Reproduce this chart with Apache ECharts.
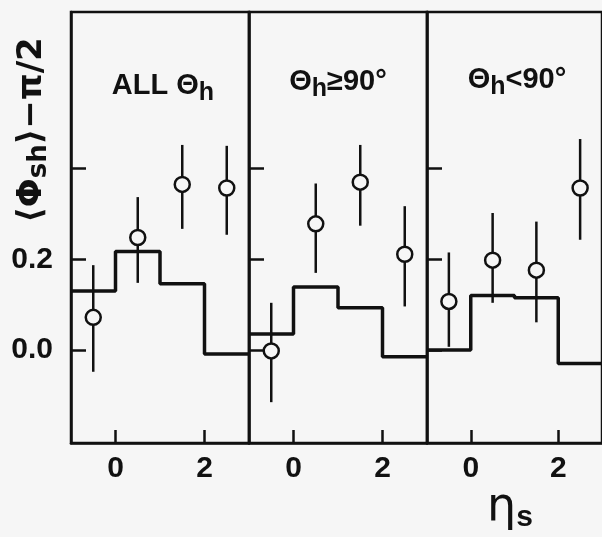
<!DOCTYPE html>
<html>
<head>
<meta charset="utf-8">
<script src="https://cdn.jsdelivr.net/npm/echarts@6/dist/echarts.min.js"></script>
<style>html,body{margin:0;padding:0;background:#f6f6f6;}#c{width:602px;height:537px;}</style>
</head>
<body>
<div id="c"></div>
<script>
// ---- data ----
const panelTitles = ['ALL Θh', 'Θh≥90°', 'Θh<90°'];
const xTickValues = [0, 2];
const yTickValues = [0, 0.2, 0.4];
const yLabelValues = [0, 0.2];
const pointX = [-0.5, 0.5, 1.5, 2.5];
const binEdges = [-1, 0, 1, 2, 3];

const allVal  = [0.072, 0.248, 0.365, 0.357];
const allHi   = [0.187, 0.337, 0.452, 0.450];
const allLo   = [-0.048, 0.148, 0.267, 0.254];
const allHist = [0.130, 0.217, 0.146, -0.009];

const geVal  = [-0.002, 0.278, 0.370, 0.211];
const geHi   = [0.104, 0.367, 0.452, 0.317];
const geLo   = [-0.115, 0.170, 0.274, 0.096];
const geHist = [0.035, 0.139, 0.093, -0.015];

const ltVal  = [0.107, 0.198, 0.176, 0.357];
const ltHi   = [0.215, 0.302, 0.283, 0.465];
const ltLo   = [0.007, 0.104, 0.061, 0.243];
const ltHist = [0.000, 0.120, 0.115, -0.030];

const panels = [
  {val: allVal, hi: allHi, lo: allLo, hist: allHist},
  {val: geVal, hi: geHi, lo: geLo, hist: geHist},
  {val: ltVal, hi: ltHi, lo: ltLo, hist: ltHist}
];

// ---- chart ----
const ink = '#111';
const font = "'Liberation Sans', 'DejaVu Sans', sans-serif";
const gridLefts = [71, 249, 427];
const grids = [], xAxes = [], yAxes = [], series = [];

panels.forEach((p, i) => {
  grids.push({left: gridLefts[i], top: 12, width: 178, height: 431,
    show: true, borderColor: ink, borderWidth: 2.5, backgroundColor: 'transparent'});
  xAxes.push({gridIndex: i, type: 'value', min: -1, max: 3,
    axisLine: {show: true, onZero: false, lineStyle: {color: ink, width: 2.5}},
    axisTick: {show: true, inside: true, length: 13, customValues: xTickValues, lineStyle: {color: ink, width: 2.5}},
    axisLabel: {show: true, customValues: xTickValues, color: ink, fontSize: 30, fontFamily: font, fontWeight: 'bold', margin: 11},
    splitLine: {show: false}});
  yAxes.push({gridIndex: i, type: 'value', min: -0.205, max: 0.745,
    axisLine: {show: true, onZero: false, lineStyle: {color: ink, width: 2.5}},
    axisTick: {show: true, inside: true, length: 15, customValues: yTickValues, lineStyle: {color: ink, width: 2.5}},
    axisLabel: {show: i === 0, customValues: yLabelValues, color: ink, fontSize: 30, fontFamily: font, fontWeight: 'bold', margin: 18,
      formatter: v => v.toFixed(1)},
    splitLine: {show: false}});

  const histData = binEdges.map((e, k) => [e, p.hist[Math.min(k, p.hist.length - 1)]]);
  series.push({type: 'line', xAxisIndex: i, yAxisIndex: i, step: 'end', data: histData,
    symbol: 'none', lineStyle: {color: ink, width: 3.5}, z: 2, animation: false});

  const errData = pointX.map((x, k) => [x, p.lo[k], p.hi[k]]);
  series.push({type: 'custom', xAxisIndex: i, yAxisIndex: i, data: errData, z: 3, animation: false,
    renderItem: (params, api) => {
      const a = api.coord([api.value(0), api.value(1)]);
      const b = api.coord([api.value(0), api.value(2)]);
      return {type: 'line', shape: {x1: a[0], y1: a[1], x2: b[0], y2: b[1]},
        style: {stroke: ink, lineWidth: 2.5}};
    }});

  series.push({type: 'scatter', xAxisIndex: i, yAxisIndex: i, data: pointX.map((x, k) => [x, p.val[k]]),
    symbol: 'circle', symbolSize: 15, z: 4, animation: false,
    itemStyle: {color: '#f6f6f6', borderColor: ink, borderWidth: 2.5, opacity: 1}});
});

const titleCenters = [[163, 86], [338, 82], [517, 80]];
const graphics = panelTitles.map((t, i) => {
  const main = t.charAt(0), sub = t.charAt(1), rest = t.slice(2);
  let text;
  if (t.startsWith('ALL')) {
    text = '{a|ALL Θ}{s|h}';
  } else {
    text = '{a|' + main + '}{s|' + sub + '}{a|' + rest + '}';
  }
  return {type: 'text', x: titleCenters[i][0], y: titleCenters[i][1], z: 10,
    style: {text: text, align: 'center', verticalAlign: 'middle',
      rich: {a: {fontSize: 29, fontWeight: 'bold', fontFamily: font, fill: ink, color: ink},
             s: {fontSize: 25, fontWeight: 'bold', fontFamily: font, fill: ink, color: ink, padding: [14, 0, 0, 0]}}}};
});
graphics.push({type: 'text', x: 32, y: 130, rotation: Math.PI / 2, z: 10,
  style: {text: '{a|⟨Φ}{s|sh}{a|⟩−π/2}', align: 'center', verticalAlign: 'middle',
    rich: {a: {fontSize: 34, fontWeight: 'bold', fontFamily: "'DejaVu Sans', sans-serif", fill: ink, color: ink},
           s: {fontSize: 26, fontWeight: 'bold', fontFamily: "'DejaVu Sans', sans-serif", fill: ink, color: ink, padding: [14, 0, 0, 0]}}}});
graphics.push({type: 'text', x: 510, y: 508, z: 10,
  style: {text: '{e|η}{s|s}', align: 'center', verticalAlign: 'middle',
    rich: {e: {fontSize: 46, fontFamily: "'DejaVu Sans', sans-serif", fill: ink, color: ink},
           s: {fontSize: 30, fontWeight: 'bold', fontFamily: font, fill: ink, color: ink, padding: [20, 0, 0, 0]}}}});

const chart = echarts.init(document.getElementById('c'), null, {renderer: 'canvas'});
chart.setOption({
  backgroundColor: '#f6f6f6',
  animation: false,
  grid: grids, xAxis: xAxes, yAxis: yAxes, series: series,
  graphic: graphics
});
</script>
</body>
</html>
